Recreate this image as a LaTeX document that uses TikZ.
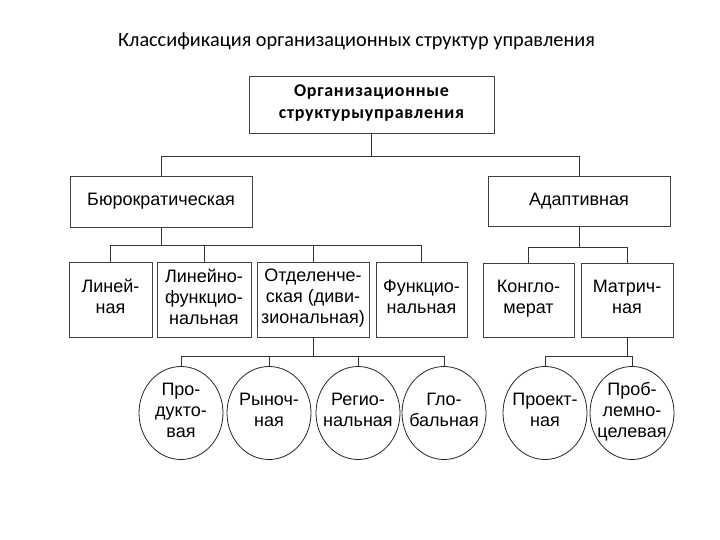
\documentclass[tikz,border=0pt]{standalone}
\usepackage{fontspec}
\setmainfont{Liberation Sans}
\newfontfamily\titlefont{Carlito}
\newfontfamily\headfont[LetterSpace=4]{Carlito}
\usetikzlibrary{shapes.geometric}
\begin{document}
\begin{tikzpicture}[x=1pt,y=-1pt,
  box/.style={draw=black!75,line width=0.8pt,rectangle,inner sep=0pt,align=center,
    font=\fontsize{18}{21}\selectfont,execute at begin node=\strut,execute at end node=\strut},
  lowbox/.style={box,execute at begin node=\rule{0pt}{22pt}},
  oval/.style={draw=black!85,line width=0.8pt,ellipse,inner sep=0pt,
    minimum width=84pt,minimum height=93pt},
  ovaltext/.style={align=center,inner sep=0pt,font=\fontsize{18}{21}\selectfont,
    execute at begin node=\strut,execute at end node=\strut},
  link/.style={draw=black!80,line width=0.8pt}]
\useasboundingbox (0,0) rectangle (720,540);
\fill[white] (0,0) rectangle (720,540);
\node (title) at (356.5,41) {\titlefont\fontsize{20.3}{24}\selectfont Классификация организационных структур управления};
\node[box,minimum width=245pt,minimum height=57pt,font=\headfont\bfseries\fontsize{18}{22}\selectfont] (top) at (371.5,104.5) {Организационные\\структурыуправления};
\node[box,minimum width=182pt,minimum height=51pt] (bur) at (161,201.5) {Бюрократическая};
\node[box,minimum width=182pt,minimum height=50pt] (ada) at (579,201) {Адаптивная};
% row 2
\node[lowbox,minimum width=83pt,minimum height=75pt] (lin) at (110.5,299.5) {Линей-\\ная};
\node[lowbox,minimum width=94pt,minimum height=75pt] (linf) at (204,299.5) {Линейно-\\функцио-\\нальная};
\node[lowbox,minimum width=112pt,minimum height=75pt] (otd) at (313,299.5) {Отделенче-\\ская (диви-\\зиональная)};
\node[lowbox,minimum width=91pt,minimum height=75pt] (fun) at (421.5,299.5) {Функцио-\\нальная};
\node[lowbox,minimum width=91pt,minimum height=74pt] (kon) at (528.5,300) {Конгло-\\мерат};
\node[lowbox,minimum width=92pt,minimum height=74pt] (mat) at (627,300) {Матрич-\\ная};
% circles
\node[oval] (pro) at (181,413) {};
\node[oval] (ryn) at (269,413) {};
\node[oval] (reg) at (358,413) {};
\node[oval] (glo) at (444,413) {};
\node[oval] (prk) at (545,413) {};
\node[oval] (prb) at (632,413) {};
\node[ovaltext] (tpro) at (pro) {Про-\\дукто-\\вая};
\node[ovaltext] (tryn) at (ryn) {Рыноч-\\ная};
\node[ovaltext] (treg) at (reg) {Регио-\\нальная};
\node[ovaltext] (tglo) at (glo) {Гло-\\бальная};
\node[ovaltext] (tprk) at (prk) {Проект-\\ная};
\node[ovaltext] (tprb) at (prb) {Проб-\\лемно-\\целевая};
% connectors
\foreach \c in {bur,ada} \draw[link] (top.south) -- ++(0,23) -| (\c.north);
\foreach \c in {lin,linf,otd,fun} \draw[link] (bur.south) -- ++(0,18) -| (\c.north);
\foreach \c in {kon,mat} \draw[link] (ada.south) -- ++(0,21) -| (\c.north);
\foreach \c in {pro,ryn,reg,glo} \draw[link] (otd.south) -- ++(0,19) -| (\c.north);
\foreach \c in {prk,prb} \draw[link] (mat.south) -- ++(0,19) -| (\c.north);
\end{tikzpicture}
\end{document}
